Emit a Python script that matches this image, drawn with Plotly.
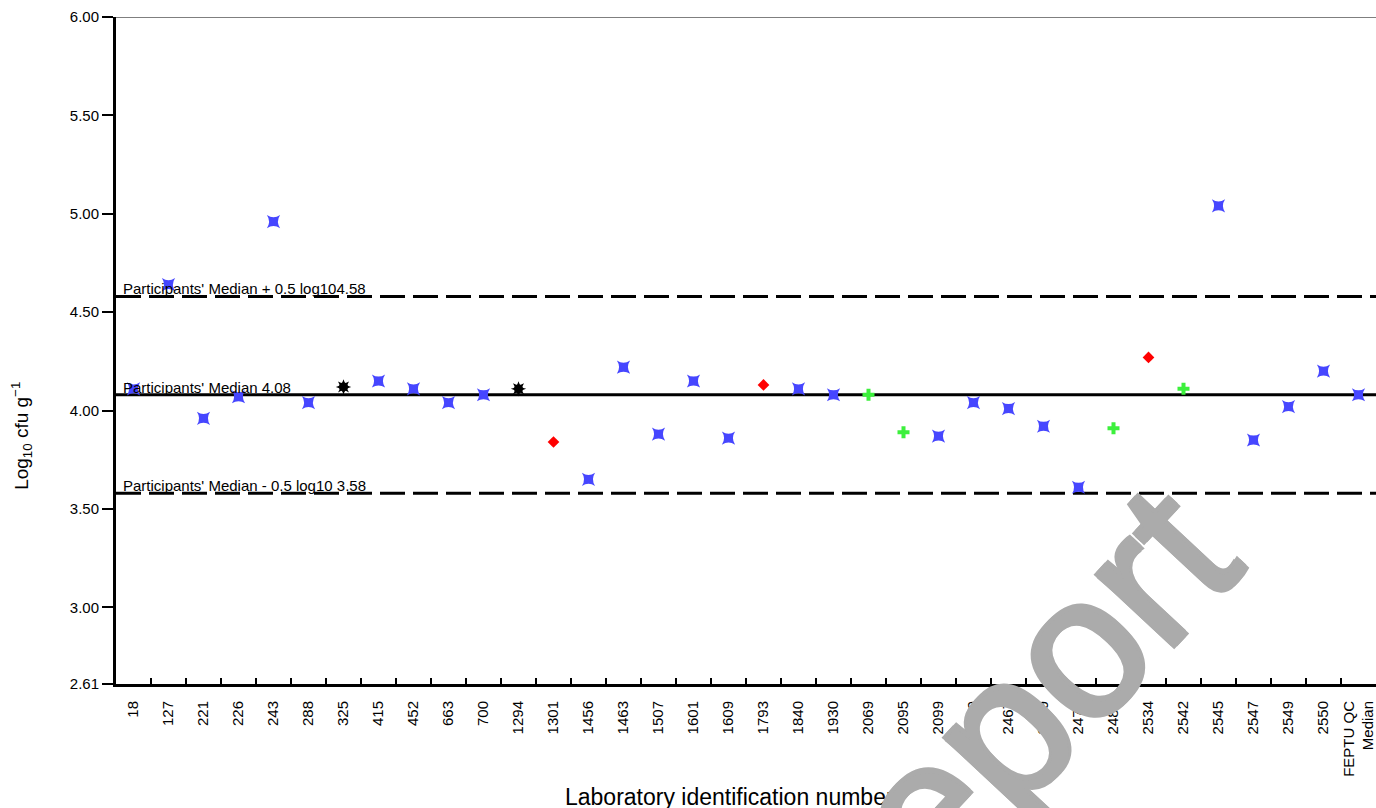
import plotly.graph_objects as go

# Laboratory identification numbers (category axis order)
labs = ["18", "127", "221", "226", "243", "288", "325", "415", "452", "663",
        "700", "1294", "1301", "1456", "1463", "1507", "1601", "1609", "1793",
        "1840", "1930", "2069", "2095", "2099", "2209", "2467", "2469", "2472",
        "2480", "2534", "2542", "2545", "2547", "2549", "2550",
        "FEPTU QC<br>Median"]

# Reported counts, log10 cfu per gram
log_counts = [4.11, 4.64, 3.96, 4.07, 4.96, 4.04, 4.12, 4.15, 4.11, 4.04,
              4.08, 4.11, 3.84, 3.65, 4.22, 3.88, 4.15, 3.86, 4.13,
              4.11, 4.08, 4.08, 3.89, 3.87, 4.04, 4.01, 3.92, 3.61,
              3.91, 4.27, 4.11, 5.04, 3.85, 4.02, 4.20,
              4.08]

# Method group of each laboratory (selects the marker)
groups = ["A", "A", "A", "A", "A", "A", "B", "A", "A", "A",
          "A", "B", "C", "A", "A", "A", "A", "A", "C",
          "A", "A", "D", "D", "A", "A", "A", "A", "A",
          "D", "C", "D", "A", "A", "A", "A",
          "A"]

median = 4.08
upper_limit = 4.58
lower_limit = 3.58

y_ticks = [2.61, 3.00, 3.50, 4.00, 4.50, 5.00, 5.50, 6.00]

FONT = "Arial, 'Liberation Sans', sans-serif"

marker_styles = {
    "A": [dict(symbol="star-square", size=12, color="#4646FF")],
    "B": [dict(symbol="star-diamond", size=11, color="#000000"),
          dict(symbol="star-square", size=10, color="#000000")],
    "C": [dict(symbol="diamond", size=9, color="#FF0000")],
    "D": [dict(symbol="cross", size=10, color="#3CF03C")],
}

fig = go.Figure()

for g, styles in marker_styles.items():
    xs = [l for l, gg in zip(labs, groups) if gg == g]
    ys = [v for v, gg in zip(log_counts, groups) if gg == g]
    for st in styles:
        fig.add_trace(go.Scatter(
            x=xs, y=ys, mode="markers",
            marker=dict(symbol=st["symbol"], size=st["size"], color=st["color"],
                        line=dict(width=0)),
            showlegend=False, cliponaxis=False,
        ))

# Median and +/- 0.5 log10 limits
for val, dash in [(median, "solid"), (upper_limit, "25px,8px"), (lower_limit, "25px,8px")]:
    fig.add_shape(type="line", xref="paper", x0=0, x1=1, yref="y", y0=val, y1=val,
                  line=dict(color="black", width=3, dash=dash), layer="below")

# Thin top frame
fig.add_shape(type="line", xref="paper", x0=0, x1=1, yref="y", y0=y_ticks[-1], y1=y_ticks[-1],
              line=dict(color="#555555", width=1.5), layer="below")

line_labels = [
    (upper_limit, f"Participants' Median + 0.5 log10{upper_limit:.2f}"),
    (median, f"Participants' Median {median:.2f}"),
    (lower_limit, f"Participants' Median - 0.5 log10 {lower_limit:.2f}"),
]
for val, txt in line_labels:
    fig.add_annotation(x=0.004, xref="paper", y=val, yref="y", text=txt,
                       showarrow=False, xanchor="left", yanchor="bottom", yshift=-3,
                       font=dict(family=FONT, size=15, color="black"))

# Axis titles
fig.add_annotation(x=(729 - 116) / 1260, xref="paper", y=-0.147, yref="paper",
                   text="Laboratory identification number", showarrow=False,
                   xanchor="center", yanchor="top",
                   font=dict(family=FONT, size=23, color="black"))
fig.add_annotation(x=-0.0755, xref="paper", y=(684 - 436) / 667, yref="paper",
                   text="Log<sub>10</sub> cfu g<sup>−1</sup>", showarrow=False,
                   textangle=-90, xanchor="center", yanchor="middle",
                   font=dict(family=FONT, size=19, color="black"))

# Watermark, stroked a little heavier by stacking slightly offset copies
for dx, dy in [(0, 0), (3, 0), (-3, 0), (0, 3), (0, -3)]:
    fig.add_annotation(x=(992 - 116) / 1260, xref="paper", y=(684 - 739) / 667, yref="paper",
                       xshift=dx, yshift=dy,
                       text="Report", showarrow=False, textangle=-47,
                       xanchor="center", yanchor="middle",
                       font=dict(family=FONT, size=200, color="#ABABAB"))

fig.update_xaxes(
    type="category", categoryorder="array", categoryarray=labs,
    range=[-0.5, len(labs) - 0.5],
    showline=True, linecolor="black", linewidth=3,
    ticks="inside", tickson="boundaries", ticklen=6, tickwidth=1.5, tickcolor="black",
    tickangle=-90, ticklabelstandoff=8,
    tickfont=dict(family=FONT, size=15, color="black"),
    showgrid=False, zeroline=False,
)
fig.update_yaxes(
    range=[y_ticks[0], y_ticks[-1]],
    tickmode="array", tickvals=y_ticks, ticktext=[f"{v:.2f}" for v in y_ticks],
    showline=True, linecolor="black", linewidth=3,
    ticks="outside", ticklen=11, tickwidth=1.5, tickcolor="black",
    tickfont=dict(family=FONT, size=15, color="black"),
    showgrid=False, zeroline=False,
)

fig.update_layout(
    width=1376, height=808,
    margin=dict(l=116, r=0, t=17, b=124),
    paper_bgcolor="white", plot_bgcolor="white",
    showlegend=False,
)

fig.write_html("out.html")
